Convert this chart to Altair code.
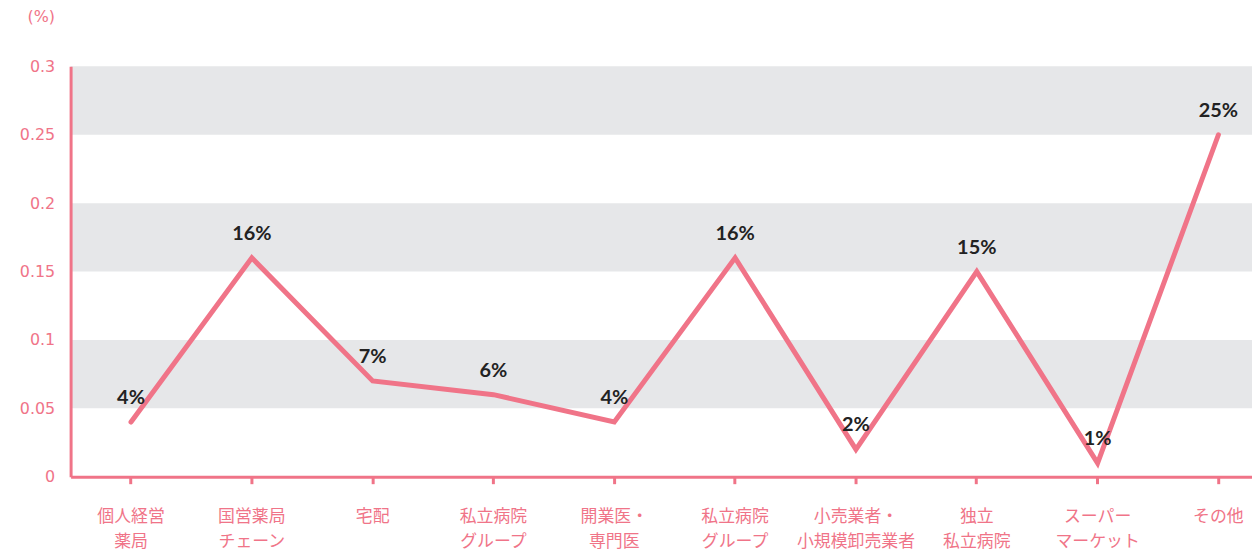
import altair as alt
import pandas as pd

categories = ["個人経営\n薬局", "国営薬局\nチェーン", "宅配", "私立病院\nグループ", "開業医・\n専門医",
              "私立病院\nグループ ", "小売業者・\n小規模卸売業者", "独立\n私立病院", "スーパー\nマーケット", "その他"]
values = [0.04, 0.16, 0.07, 0.06, 0.04, 0.16, 0.02, 0.15, 0.01, 0.25]
labels = ["4%", "16%", "7%", "6%", "4%", "16%", "2%", "15%", "1%", "25%"]
band_lo = [0.05, 0.15, 0.25]
band_hi = [0.10, 0.20, 0.30]
y_ticks = [0, 0.05, 0.1, 0.15, 0.2, 0.25, 0.3]

PINK = "#f07488"
W, H = 1189, 413

df = pd.DataFrame({"cat": categories, "v": values, "lab": labels})
bands = pd.DataFrame({"lo": band_lo, "hi": band_hi})

yscale = alt.Scale(domain=[0, 0.3], nice=False)
xscale = alt.Scale(domain=categories, range=[0, 1216], type="band", paddingInner=0, paddingOuter=0)

band = alt.Chart(bands).mark_rect(color="#e6e7e9").encode(
    x=alt.value(0), x2=alt.value(W),
    y=alt.Y("lo:Q", scale=yscale), y2="hi:Q")

line = alt.Chart(df).mark_line(color=PINK, strokeWidth=5, strokeCap="round", strokeJoin="miter").encode(
    x=alt.X("cat:N", scale=xscale, sort=None,
            axis=alt.Axis(title=None, labelExpr="split(datum.label, '\\n')", labelAngle=0,
                          labelColor=PINK, labelFont="Noto Sans CJK JP", labelFontSize=17,
                          labelLineHeight=25, labelPadding=33, domainColor=PINK, domainWidth=3,
                          tickColor=PINK, tickWidth=3, tickSize=7, labelBaseline="middle",
                          zindex=1)),
    y=alt.Y("v:Q", scale=yscale,
            axis=alt.Axis(title="(%)", titleAngle=0, titleX=-30, titleY=-50, titleAlign="center",
                          titleBaseline="middle",
                          titleColor=PINK, titleFont="DejaVu Sans", titleFontWeight="normal", titleFontSize=16,
                          values=y_ticks, labelExpr="format(datum.value, '~g')",
                          labelColor=PINK, labelFont="DejaVu Sans", labelFontSize=16, labelPadding=16,
                          ticks=False, grid=False, domainColor=PINK, domainWidth=3, zindex=1)))

text = alt.Chart(df).mark_text(font="Lato", fontWeight="bold", fontSize=20, color="#222222", dy=-24,
                               baseline="middle").encode(
    x=alt.X("cat:N", scale=xscale, sort=None), y=alt.Y("v:Q", scale=yscale), text="lab:N")

chart = alt.layer(band, line, text).properties(
    width=W, height=H, autosize=alt.AutoSizeParams(type="none"),
    padding={"left": 63, "top": 57, "right": 0, "bottom": 73}
).configure_view(stroke=None)

chart.save("out.html", embed_options={"renderer": "svg", "actions": False})
